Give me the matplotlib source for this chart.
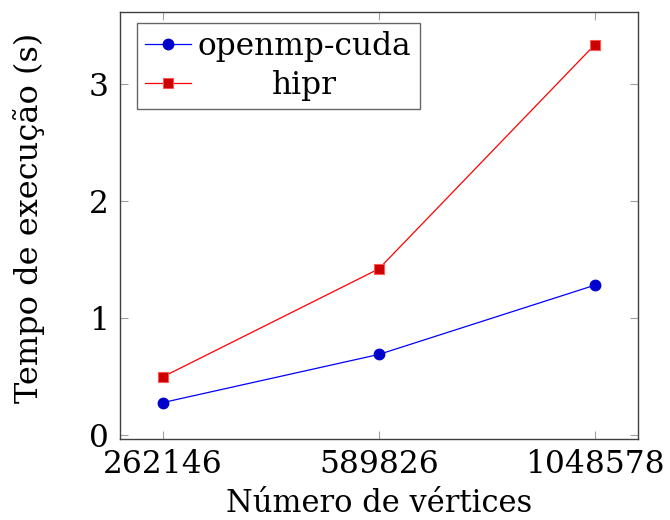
import matplotlib
matplotlib.use("Agg")
import matplotlib.pyplot as plt
from matplotlib.transforms import Affine2D

categories = ["262146", "589826", "1048578"]
openmp_cuda = [0.28, 0.69, 1.28]
hipr = [0.50, 1.42, 3.33]
yticks = [0, 1, 2, 3]

plt.rcParams['font.family'] = ['DejaVu Serif']
fs = 22.5

fig = plt.figure(figsize=(6.7, 5.2), dpi=100)
ax = fig.add_axes([0.179, 0.156, 0.773, 0.821])

x = list(range(len(categories)))
ax.plot(x, openmp_cuda, color='#0000ff', lw=0.9, marker='o', markersize=7.5,
        markerfacecolor='#0000cc', markeredgecolor='#0000cc', label='openmp-cuda')
ax.plot(x, hipr, color='#ff0000', lw=0.9, marker='s', markersize=7.5,
        markerfacecolor='#cc0000', markeredgecolor='#ff5555', markeredgewidth=0.8,
        label='hipr')

ax.set_xlim(-0.2, 2.2)
ax.set_ylim(-0.03, 3.61)
ax.set_xticks(x)
ax.set_xticklabels(categories, fontsize=fs)
ax.set_yticks(yticks)
ax.set_yticklabels([str(v) for v in yticks], fontsize=fs)
ax.tick_params(direction='in', length=6, width=0.8, color='#a0a0a0',
               top=True, right=True)
ax.tick_params(axis='y', pad=8)
ax.tick_params(axis='x', pad=7)
for s in ax.spines.values():
    s.set_color('#404040')
    s.set_linewidth(1.0)

ax.set_xlabel('Número de vértices', fontsize=22)
ax.xaxis.set_label_coords(0.5, -0.114)
ax.set_ylabel('Tempo de execução (s)', fontsize=23)
ax.yaxis.set_label_coords(-0.145, 0.518)

leg = ax.legend(loc='upper left', bbox_to_anchor=(0.033, 0.974), fontsize=fs,
                frameon=True, fancybox=False, edgecolor='#404040',
                handlelength=1.47, handletextpad=0.22, borderpad=0.26,
                labelspacing=0.26, borderaxespad=0)
leg.get_frame().set_linewidth(1.0)

fig.canvas.draw()
r = fig.canvas.get_renderer()
texts = leg.get_texts()
widths = [t.get_window_extent(r).width for t in texts]
wmax = max(widths)
for t, w in zip(texts, widths):
    dx = (wmax - w) / 2
    if dx > 0:
        t.set_transform(t.get_transform() + Affine2D().translate(dx, 0))

fig.savefig('out.png', dpi=100)
